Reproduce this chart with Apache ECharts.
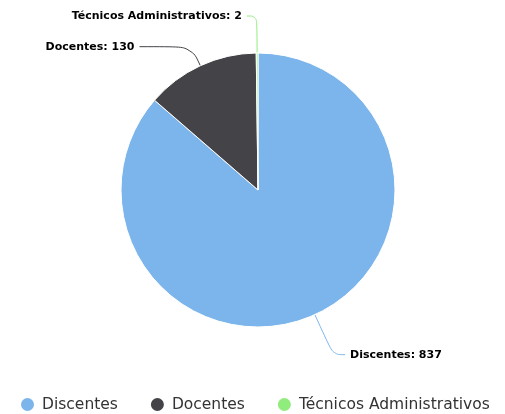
<!DOCTYPE html>
<html><head><meta charset="utf-8">
<script src="https://cdn.jsdelivr.net/npm/echarts@6/dist/echarts.min.js"></script>
<style>html,body{margin:0;padding:0;background:#fff}#c{width:505px;height:414px}</style>
</head><body><div id="c"></div>
<script>
const categories = ['Discentes', 'Docentes', 'Técnicos Administrativos'];
const values = [837, 130, 2];
const colors = ['#7cb5ec', '#434348', '#90ed7d'];
const lineLengths = [[44, 12], [21, 52], [37, 10]];

const chart = echarts.init(document.getElementById('c'));
chart.setOption({
  animation: false,
  color: colors,
  legend: {
    top: 391,
    left: 14,
    icon: 'circle',
    itemWidth: 15,
    itemHeight: 15,
    itemGap: 31,
    textStyle: { fontFamily: 'DejaVu Sans', fontSize: 15.5, color: '#333', padding: [0, 0, 0, 2] },
    data: categories
  },
  series: [{
    type: 'pie',
    center: [258, 190],
    radius: [0, 137],
    startAngle: 90,
    clockwise: true,
    itemStyle: { borderColor: '#fff', borderWidth: 1 },
    label: {
      formatter: '{b}: {c}',
      fontFamily: 'DejaVu Sans',
      fontWeight: 'bold',
      fontSize: 11,
      color: '#000'
    },
    labelLine: { smooth: 0.4, lineStyle: { width: 1 } },
    data: categories.map((n, i) => ({
      name: n, value: values[i],
      labelLine: { length: lineLengths[i][0], length2: lineLengths[i][1], lineStyle: { color: colors[i] } }
    }))
  }]
});
</script></body></html>
